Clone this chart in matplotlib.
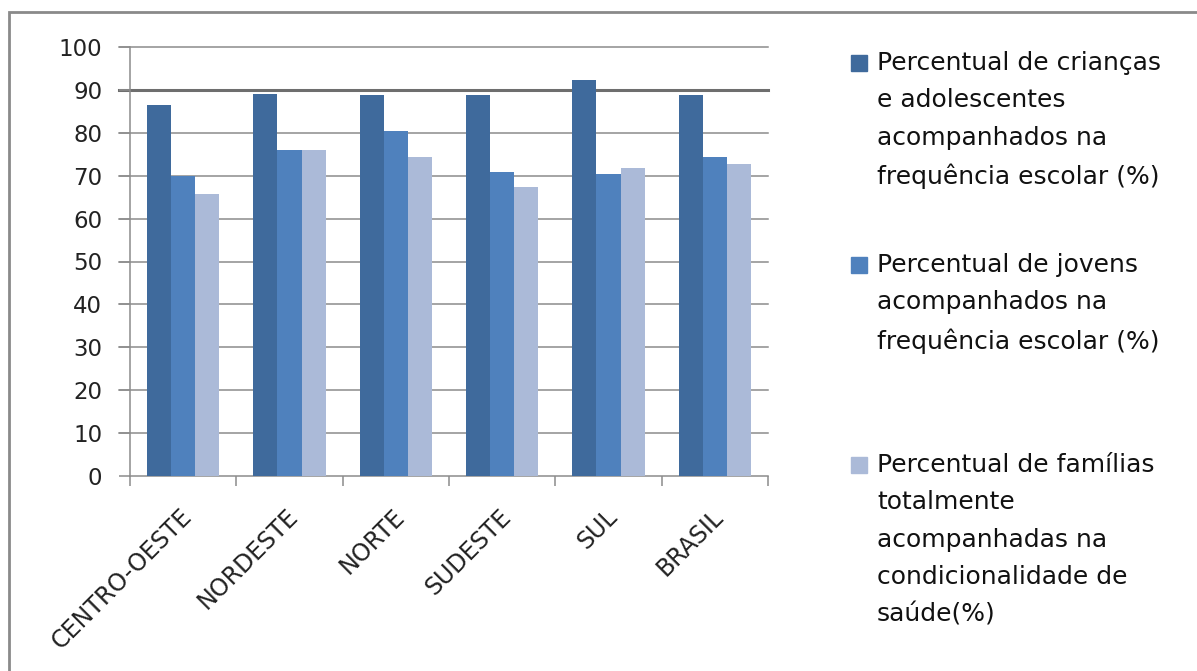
import numpy as np
import matplotlib.pyplot as plt
from matplotlib.patches import Rectangle
from matplotlib.transforms import ScaledTranslation

# --- data ---
regioes = ['CENTRO-OESTE', 'NORDESTE', 'NORTE', 'SUDESTE', 'SUL', 'BRASIL']
criancas = [86.4, 89.1, 88.9, 88.8, 92.2, 88.8]
jovens = [69.9, 76.1, 80.4, 70.9, 70.3, 74.4]
familias = [65.7, 76.1, 74.4, 67.4, 71.7, 72.7]

rotulos = [
    'Percentual de crianças\ne adolescentes\nacompanhados na\nfrequência escolar (%)',
    'Percentual de jovens\nacompanhados na\nfrequência escolar (%)',
    'Percentual de famílias\ntotalmente\nacompanhadas na\ncondicionalidade de\nsaúde(%)',
]
cores = ['#3F6A9C', '#4F81BD', '#ABBAD8']
yticks = np.arange(0, 101, 10)

plt.rcParams['font.family'] = ['DejaVu Sans']

W, H = 1197, 671
fig = plt.figure(figsize=(W / 100, H / 100), dpi=100)
ax = fig.add_axes([130 / W, 1 - 476 / H, (768 - 130) / W, (476 - 47) / H])

# outer frame of the chart object
fig.patches.append(Rectangle((9 / W, -0.05), 1.1, 1 - 12 / H + 0.05,
                             transform=fig.transFigure, fill=False,
                             edgecolor='#8a8a8a', linewidth=2))

x = np.arange(len(regioes))
bw = 0.226
for i, serie in enumerate([criancas, jovens, familias]):
    ax.bar(x + (i - 1) * bw, serie, width=bw, color=cores[i], zorder=3,
           edgecolor='none')

ax.set_xlim(-0.5, len(regioes) - 0.5)
ax.set_ylim(0, 100)
ax.set_yticks(yticks)
ax.set_yticklabels([str(v) for v in yticks], fontsize=16.5, color='#222222')
for v in yticks[1:]:
    lw, c = (2.2, '#6e6e6e') if v == 90 else (1.1, '#8c8c8c')
    ax.axhline(v, color=c, linewidth=lw, zorder=1, xmin=-0.018, clip_on=False)

ax.set_xticks(np.arange(len(regioes) + 1) - 0.5, minor=True)
ax.set_xticks(x)
ax.set_xticklabels(regioes, rotation=45, ha='right', va='center',
                   rotation_mode='anchor', fontsize=17, color='#222222')
ax.tick_params(axis='x', which='major', length=0, pad=0)
ax.tick_params(axis='x', which='minor', length=7, color='#8c8c8c', width=1.1)
ax.tick_params(axis='y', length=8, color='#8c8c8c', width=1.1, pad=12)
off = ScaledTranslation(5 / 100, -37 / 100, fig.dpi_scale_trans)
for lab in ax.get_xticklabels():
    lab.set_transform(lab.get_transform() + off)

for s in ['top', 'right']:
    ax.spines[s].set_visible(False)
for s in ['left', 'bottom']:
    ax.spines[s].set_color('#8c8c8c')
    ax.spines[s].set_linewidth(1.1)

# legend drawn by hand, positions in pixels (top of first line)
leg_top = [51, 253, 453]
for i, txt in enumerate(rotulos):
    fig.patches.append(Rectangle((851 / W, 1 - (leg_top[i] + 20) / H), 16 / W, 16 / H,
                                 transform=fig.transFigure, color=cores[i]))
    fig.text(877 / W, 1 - leg_top[i] / H, txt, ha='left', va='top',
             fontsize=18, linespacing=1.7, color='#111111')

fig.savefig('out.png', dpi=100)
